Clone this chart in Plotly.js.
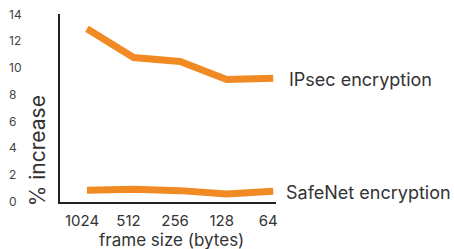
<!DOCTYPE html>
<html><head><meta charset="utf-8">
<script src="https://cdn.plot.ly/plotly-3.0.1.min.js"></script>
<style>html,body{margin:0;padding:0;background:#fff}#c{width:454px;height:249px}</style>
</head><body><div id="c"></div>
<script>
const categories = ['1024','512','256','128','64'];
const ipsec = [12.9, 10.75, 10.45, 9.1, 9.2];
const safenet = [0.82, 0.9, 0.8, 0.55, 0.75];
const seriesNames = ['IPsec encryption','SafeNet encryption'];
const yTicks = [0,2,4,6,8,10,12,14];
const xTitle = 'frame size (bytes)';
const yTitle = '% increase';

const orange = '#F18A22';
const font = 'Inter, Roboto, sans-serif';
const traces = [ipsec, safenet].map((v,i)=>({
  x: categories, y: v, type:'scatter', mode:'lines', name: seriesNames[i],
  line:{color:orange, width:7}, hoverinfo:'skip'
}));
const ann = [];
[ipsec, safenet].forEach((v,i)=>{
  ann.push({xref:'x', yref:'y', x: categories.length-1, y: v[v.length-1],
    text: seriesNames[i], showarrow:false, xanchor:'left', xshift: i===0?14:11, yshift: -1,
    font:{family:font, size:18, color:'#333'}});
});
yTicks.forEach(t=>{
  ann.push({xref:'paper', yref:'y', x:0, y:t, text:String(t), showarrow:false,
    xanchor:'left', xshift:-53, font:{family:font, size:12, color:'#444'}});
});
ann.push({xref:'paper', yref:'paper', x:0, y:0.27, xshift:-23, text:yTitle, textangle:-90,
  showarrow:false, xanchor:'center', yanchor:'middle', font:{family:font, size:21, color:'#333'}});
ann.push({xref:'paper', yref:'paper', x:0.5, y:0, xshift:3, yshift:-26, text:xTitle,
  showarrow:false, xanchor:'center', yanchor:'top', font:{family:font, size:17, color:'#333'}});
const layout = {
  width:454, height:249, margin:{l:60, r:178, t:14, b:47},
  paper_bgcolor:'#fff', plot_bgcolor:'#fff', showlegend:false,
  xaxis:{type:'category', range:[-0.58, 4.06], showgrid:false, zeroline:false,
    showline:true, linecolor:'#222', linewidth:2, ticks:'', ticklabelshift:-5, ticklabelstandoff:4,
    tickfont:{family:font, size:15, color:'#333'}},
  yaxis:{range:[-0.05,14], showgrid:false, zeroline:false, showline:true, linecolor:'#222', linewidth:2,
    tickvals:yTicks, showticklabels:false, ticks:''},
  annotations: ann
};
Plotly.newPlot('c', traces, layout, {staticPlot:true, displayModeBar:false});
</script></body></html>
